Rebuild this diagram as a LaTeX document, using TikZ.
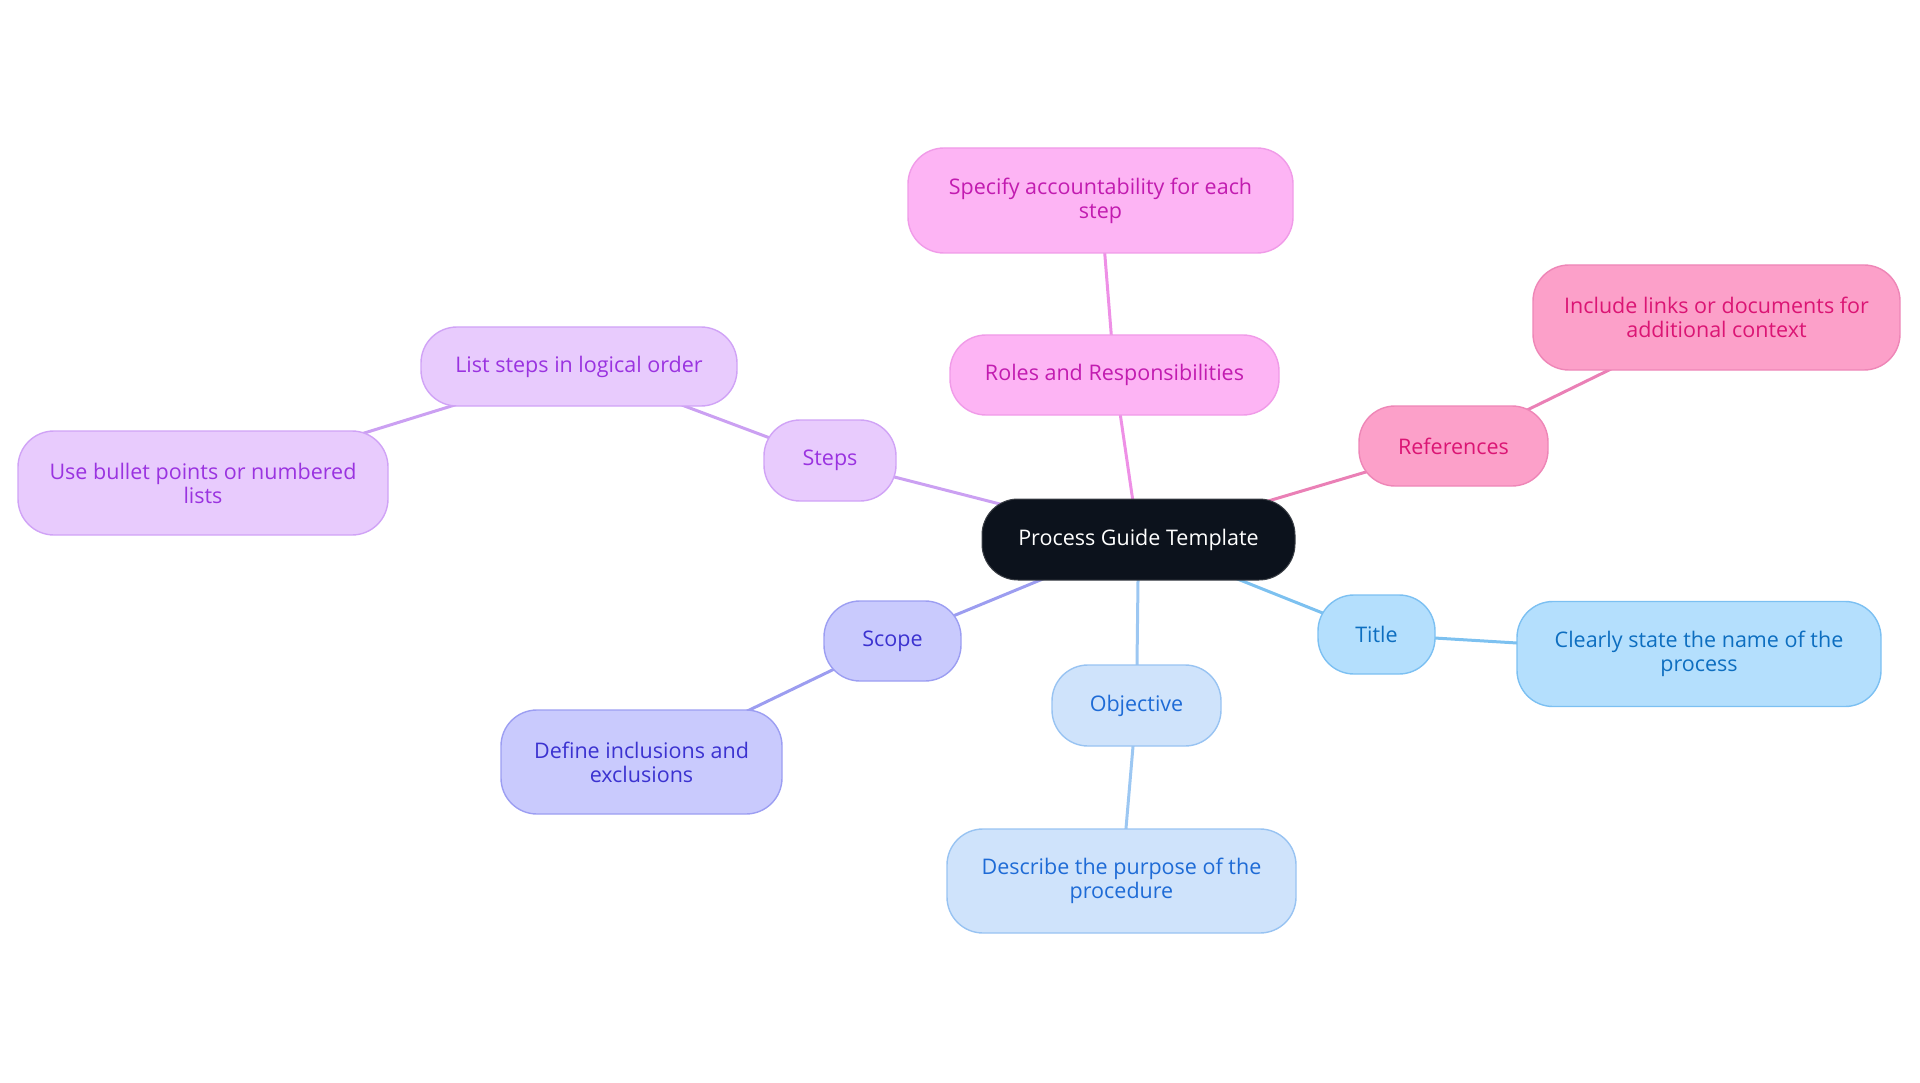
\documentclass[tikz,border=0pt]{standalone}
\usepackage{fontspec}
\setmainfont{Open Sans}
\usetikzlibrary{backgrounds}
\definecolor{cfill}{HTML}{0C121C}
\definecolor{cdraw}{HTML}{3B3F46}
\definecolor{pkfill}{HTML}{FDB4F4}
\definecolor{pkdraw}{HTML}{F09BE8}
\definecolor{pktext}{HTML}{C21BB0}
\definecolor{pkline}{HTML}{EE90E6}
\definecolor{rffill}{HTML}{FCA0C9}
\definecolor{rfdraw}{HTML}{EE86B7}
\definecolor{rftext}{HTML}{DB1574}
\definecolor{rfline}{HTML}{EA80B6}
\definecolor{pufill}{HTML}{E8CBFD}
\definecolor{pudraw}{HTML}{D0A3F6}
\definecolor{putext}{HTML}{9A33E0}
\definecolor{puline}{HTML}{CBA0F2}
\definecolor{scfill}{HTML}{C9CAFD}
\definecolor{scdraw}{HTML}{9C9EF2}
\definecolor{sctext}{HTML}{3B32D0}
\definecolor{scline}{HTML}{9C9DF0}
\definecolor{obfill}{HTML}{CFE3FB}
\definecolor{obdraw}{HTML}{98C3F2}
\definecolor{obtext}{HTML}{1E6BD6}
\definecolor{obline}{HTML}{9CC7F2}
\definecolor{tifill}{HTML}{B4DFFD}
\definecolor{tidraw}{HTML}{7CC0F2}
\definecolor{titext}{HTML}{0D6EC0}
\definecolor{tiline}{HTML}{7DC1F0}
\tikzset{
  box/.style={rectangle, rounded corners=36pt, line width=1.4pt, align=center,
    inner sep=0pt, font=\fontsize{21.5}{24}\selectfont},
  central/.style={box, fill=cfill, draw=cdraw, text=white, line width=1pt},
  pink/.style={box, fill=pkfill, draw=pkdraw, text=pktext},
  refer/.style={box, fill=rffill, draw=rfdraw, text=rftext},
  purple/.style={box, fill=pufill, draw=pudraw, text=putext},
  scopec/.style={box, fill=scfill, draw=scdraw, text=sctext},
  objc/.style={box, fill=obfill, draw=obdraw, text=obtext},
  titlec/.style={box, fill=tifill, draw=tidraw, text=titext},
  conn/.style={line width=3pt},
}
\begin{document}
\begin{tikzpicture}[x=1pt,y=-1pt]
\useasboundingbox (0,0) rectangle (1920,1083);
\node[central, minimum width=313pt, minimum height=81pt] (c) at (1138.5,539.5) {Process Guide Template};
\node[pink, minimum width=329pt, minimum height=80pt] (roles) at (1114.5,375) {Roles and Responsibilities};
\node[pink, minimum width=385pt, minimum height=105pt] (spec) at (1100.5,200.5) {Specify accountability for each\\step};
\node[refer, minimum width=189pt, minimum height=80pt] (refs) at (1453.5,446) {References};
\node[refer, minimum width=367pt, minimum height=105pt] (incl) at (1716.5,317.5) {Include links or documents for\\additional context};
\node[purple, minimum width=132pt, minimum height=81pt] (steps) at (830,460.5) {Steps};
\node[purple, minimum width=316pt, minimum height=79pt] (list) at (579,366.5) {List steps in logical order};
\node[purple, minimum width=370pt, minimum height=104pt] (bullet) at (203,483) {Use bullet points or numbered\\lists};
\node[scopec, minimum width=137pt, minimum height=80pt] (scope) at (892.5,641) {Scope};
\node[scopec, minimum width=281pt, minimum height=104pt] (define) at (641.5,762) {Define inclusions and\\exclusions};
\node[objc, minimum width=169pt, minimum height=81pt] (obj) at (1136.5,705.5) {Objective};
\node[objc, minimum width=349pt, minimum height=104pt] (desc) at (1121.5,881) {Describe the purpose of the\\procedure};
\node[titlec, minimum width=117pt, minimum height=79pt] (title) at (1376.5,634.5) {Title};
\node[titlec, minimum width=364pt, minimum height=105pt] (clear) at (1699,654) {Clearly state the name of the\\process};
\begin{pgfonlayer}{background}
\draw[conn, pkline] (c.center) -- (roles.center);
\draw[conn, pkline] (roles.center) -- (spec.center);
\draw[conn, rfline] (c.center) -- (refs.center);
\draw[conn, rfline] (refs.center) -- (incl.center);
\draw[conn, puline] (c.center) -- (steps.center);
\draw[conn, puline] (steps.center) -- (list.center);
\draw[conn, puline] (list.center) -- (bullet.center);
\draw[conn, scline] (c.center) -- (scope.center);
\draw[conn, scline] (scope.center) -- (define.center);
\draw[conn, obline] (c.center) -- (obj.center);
\draw[conn, obline] (obj.center) -- (desc.center);
\draw[conn, tiline] (c.center) -- (title.center);
\draw[conn, tiline] (title.center) -- (clear.center);
\end{pgfonlayer}
\end{tikzpicture}
\end{document}
